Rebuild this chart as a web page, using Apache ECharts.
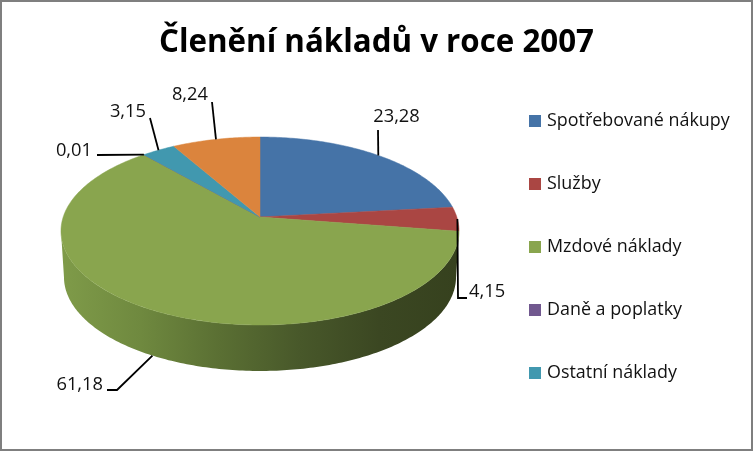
<!DOCTYPE html>
<html><head><meta charset="utf-8">
<style>html,body{margin:0;padding:0;background:#fff}#c{width:753px;height:451px}</style>
<script src="https://cdn.jsdelivr.net/npm/echarts@6/dist/echarts.min.js"></script>
</head><body><div id="c"></div>
<script>
const titleText = 'Členění nákladů v roce 2007';
const categories = ['Spotřebované nákupy','Služby','Mzdové náklady','Daně a poplatky','Ostatní náklady',''];
const values = [23.28,4.15,61.18,0.01,3.15,8.24];
const colors = ['#4573a7','#aa4643','#89a54e','#71588f','#4198af','#db843d'];
const legendNames = categories.slice(0,5);

/* pie projection (perspective view of a thick disc) */
const CX=260, CY=217, R=196.8, B=91.9, K=-0.149, DEPTH=46, BOTTOM_SCALE=0.985;
/* label layout: text anchor + leader bend, relative to slice order */
const labelLayout = [
  {tx:396.5,ty:117,ta:'center',bend:[[378,130]]},
  {tx:469,ty:292,ta:'left',bend:[[458,298],[467,298]]},
  {tx:103,ty:385,ta:'right',bend:[[117,390],[107,390]],wall:true},
  {tx:92,ty:151,ta:'right',bend:[[97,155]]},
  {tx:146,ty:112,ta:'right',bend:[[150,118]]},
  {tx:208,ty:95,ta:'right',bend:[[212,102]]}
];
const total = values.reduce((a,b)=>a+b,0);
const starts = values.map((_,i)=>values.slice(0,i).reduce((a,b)=>a+b,0));
const TAU=Math.PI*2;
function topPt(t){const u=Math.sin(t),v=-Math.cos(t),w=1+K*v;return [CX+R*u/w,CY+B*v/w];}
function bottomPt(t){const p=topPt(t);return [CX+(p[0]-CX)*BOTTOM_SCALE,p[1]+DEPTH];}
const WALL_A=Math.PI-Math.acos(-K), WALL_B=Math.PI+Math.acos(-K);
function samples(a,b,f){const n=Math.max(2,Math.ceil((b-a)/0.015));const r=[];for(let i=0;i<=n;i++)r.push(f(a+(b-a)*i/n));return r;}
const wallFill={type:'linear',x:0,y:0,x2:1,y2:0,colorStops:[
  {offset:0,color:'#7f9b49'},{offset:.2,color:'#6f893f'},{offset:.4,color:'#5a6f33'},
  {offset:.6,color:'#48582a'},{offset:.8,color:'#3b4722'},{offset:1,color:'#36411e'}]};

function makeRender(i){
  return function(params,api){
    const val=api.value(0);
    const a=starts[i]/total*TAU,b=(starts[i]+val)/total*TAU;
    const children=[];
    const wa=Math.max(a,WALL_A),wb=Math.min(b,WALL_B);
    if(wb>wa){
      const pts=samples(wa,wb,topPt).concat(samples(wa,wb,bottomPt).reverse());
      children.push({type:'polygon',shape:{points:pts},style:{fill:wallFill}});
    }
    const facePts=[[CX,CY]].concat(samples(a,b,topPt));
    children.push({type:'polygon',z2:2,shape:{points:facePts},style:{fill:colors[i],stroke:colors[i],lineWidth:0.5}});
    const m=(a+b)/2,lay=labelLayout[i];
    const start=lay.wall?bottomPt(m):topPt(m);
    children.push({type:'polyline',z2:10,shape:{points:[start].concat(lay.bend)},style:{fill:'none',stroke:'#000',lineWidth:1.8}});
    children.push({type:'text',z2:11,style:{x:lay.tx,y:lay.ty,text:val.toFixed(2).replace('.',','),
      textAlign:lay.ta,textVerticalAlign:'middle',fill:'#111',font:'18.3px "Open Sans"'}});
    return {type:'group',children};
  };
}
const chart=echarts.init(document.getElementById('c'));
chart.setOption({
  animation:false,
  backgroundColor:'#fff',
  title:{text:titleText,left:'center',top:23,textStyle:{fontFamily:'Open Sans',fontWeight:'bold',fontSize:31.3,color:'#000'}},
  legend:{data:legendNames,orient:'vertical',left:524,top:106,icon:'rect',itemWidth:12,itemHeight:12,itemGap:43,
    textStyle:{fontFamily:'Open Sans',fontSize:17.9,lineHeight:20,height:20,color:'#111',padding:[0,0,0,1]}},
  graphic:[{type:'rect',shape:{x:1,y:1,width:751,height:449},style:{fill:'none',stroke:'#7f7f7f',lineWidth:2},z:100}],
  series:categories.map((name,i)=>({type:'custom',name,coordinateSystem:'none',silent:true,
    itemStyle:{color:colors[i]},data:[[values[i]]],renderItem:makeRender(i)}))
});
</script></body></html>
